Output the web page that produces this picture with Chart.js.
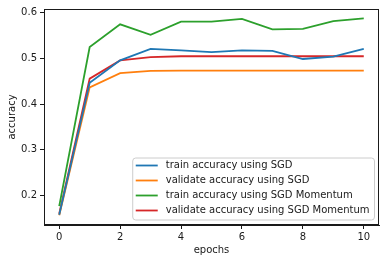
<!DOCTYPE html>
<html><head><meta charset="utf-8">
<script src="https://cdn.jsdelivr.net/npm/chart.js@4.4.0/dist/chart.umd.min.js"></script>
<style>html,body{margin:0;padding:0;background:#fff}#wrap{width:386px;height:263px}</style>
</head><body><div id="wrap"><canvas id="c" width="386" height="263"></canvas></div>
<script>
const epochs = [0,1,2,3,4,5,6,7,8,9,10];
const trainSGD = [0.158,0.447,0.496,0.521,0.518,0.514,0.518,0.517,0.499,0.504,0.521];
const valSGD = [0.157,0.437,0.468,0.473,0.4735,0.4735,0.4735,0.4735,0.4735,0.4735,0.4735];
const trainMom = [0.177,0.525,0.575,0.552,0.581,0.581,0.587,0.564,0.565,0.582,0.588];
const valMom = [0.160,0.456,0.496,0.503,0.505,0.505,0.505,0.505,0.505,0.505,0.505];
const labels = ['train accuracy using SGD','validate accuracy using SGD','train accuracy using SGD Momentum','validate accuracy using SGD Momentum'];
const colors = ['#1f77b4','#ff7f0e','#2ca02c','#d62728'];
const xTicks = [0,2,4,6,8,10];
const yTicks = [0.2,0.3,0.4,0.5,0.6];

const FONT = 'DejaVu Sans';
const TXT = '#1a1a1a';
const series = [trainSGD,valSGD,trainMom,valMom];
const datasets = series.map((s,i)=>({
  label: labels[i],
  data: epochs.map((e,j)=>({x:e,y:s[j]})),
  borderColor: colors[i], backgroundColor: colors[i],
  borderWidth: 1.8, pointRadius: 0, tension: 0, fill:false
}));

const frameLegend = {
  id:'frameLegend',
  afterDraw(chart){
    const ctx = chart.ctx, a = chart.chartArea;
    ctx.save();
    ctx.font = '10px "'+FONT+'"';
    let maxW = 0;
    chart.data.datasets.forEach(d=>{maxW=Math.max(maxW,ctx.measureText(d.label).width);});
    const pad=3, handle=22, gap=8, rowH=15;
    const w = pad+handle+gap+maxW+5;
    const h = 62;
    const x0 = a.right-4.5-w, y0 = a.bottom-5-h;
    ctx.beginPath();
    const r=3;
    ctx.moveTo(x0+r,y0);ctx.lineTo(x0+w-r,y0);ctx.arcTo(x0+w,y0,x0+w,y0+r,r);
    ctx.lineTo(x0+w,y0+h-r);ctx.arcTo(x0+w,y0+h,x0+w-r,y0+h,r);
    ctx.lineTo(x0+r,y0+h);ctx.arcTo(x0,y0+h,x0,y0+h-r,r);
    ctx.lineTo(x0,y0+r);ctx.arcTo(x0,y0,x0+r,y0,r);ctx.closePath();
    ctx.fillStyle='rgba(255,255,255,0.8)';ctx.fill();
    ctx.strokeStyle='#cccccc';ctx.lineWidth=1;ctx.stroke();
    chart.data.datasets.forEach((d,i)=>{
      const yy = y0+7.5+i*rowH;
      ctx.strokeStyle=d.borderColor;ctx.lineWidth=1.8;
      ctx.beginPath();ctx.moveTo(x0+pad,yy);ctx.lineTo(x0+pad+handle,yy);ctx.stroke();
      ctx.fillStyle=TXT;ctx.textBaseline='middle';ctx.textAlign='left';
      ctx.fillText(d.label,x0+pad+handle+gap,yy);
    });
    ctx.strokeStyle=TXT;ctx.lineWidth=1;
    ctx.strokeRect(Math.round(a.left)+0.5,Math.round(a.top)+0.5,Math.round(a.right-a.left)-1,Math.round(a.bottom-a.top)-1);
    ctx.restore();
  }
};

new Chart(document.getElementById('c'),{
  type:'line',
  data:{datasets},
  options:{
    responsive:false, animation:false,
    layout:{padding:{left:0,right:7,top:7,bottom:0}},
    plugins:{legend:{display:false},tooltip:{enabled:false}},
    scales:{
      x:{type:'linear',min:-0.5,max:10.5,
        afterBuildTicks(s){s.ticks=xTicks.map(v=>({value:v}));},
        afterFit(s){s.height=38;},
        grid:{display:true,drawOnChartArea:false,drawTicks:true,tickLength:4,color:TXT,tickColor:TXT},
        border:{display:true,color:TXT},
        ticks:{font:{family:FONT,size:10},color:TXT,padding:2,maxRotation:0,autoSkip:false,callback:v=>String(v)},
        title:{display:true,text:'epochs',font:{family:FONT,size:10},color:TXT,padding:{top:1,bottom:7}}
      },
      y:{type:'linear',min:0.1355,max:0.6085,
        afterBuildTicks(s){s.ticks=yTicks.map(v=>({value:v}));},
        afterFit(s){s.width=44;},
        grid:{display:true,drawOnChartArea:false,drawTicks:true,tickLength:4,color:TXT,tickColor:TXT},
        border:{display:true,color:TXT},
        ticks:{font:{family:FONT,size:10},color:TXT,padding:3,autoSkip:false,callback:v=>v.toFixed(1)},
        title:{display:true,text:'accuracy',font:{family:FONT,size:10},color:TXT,padding:{top:6,bottom:0}}
      }
    }
  },
  plugins:[frameLegend]
});
</script></body></html>
